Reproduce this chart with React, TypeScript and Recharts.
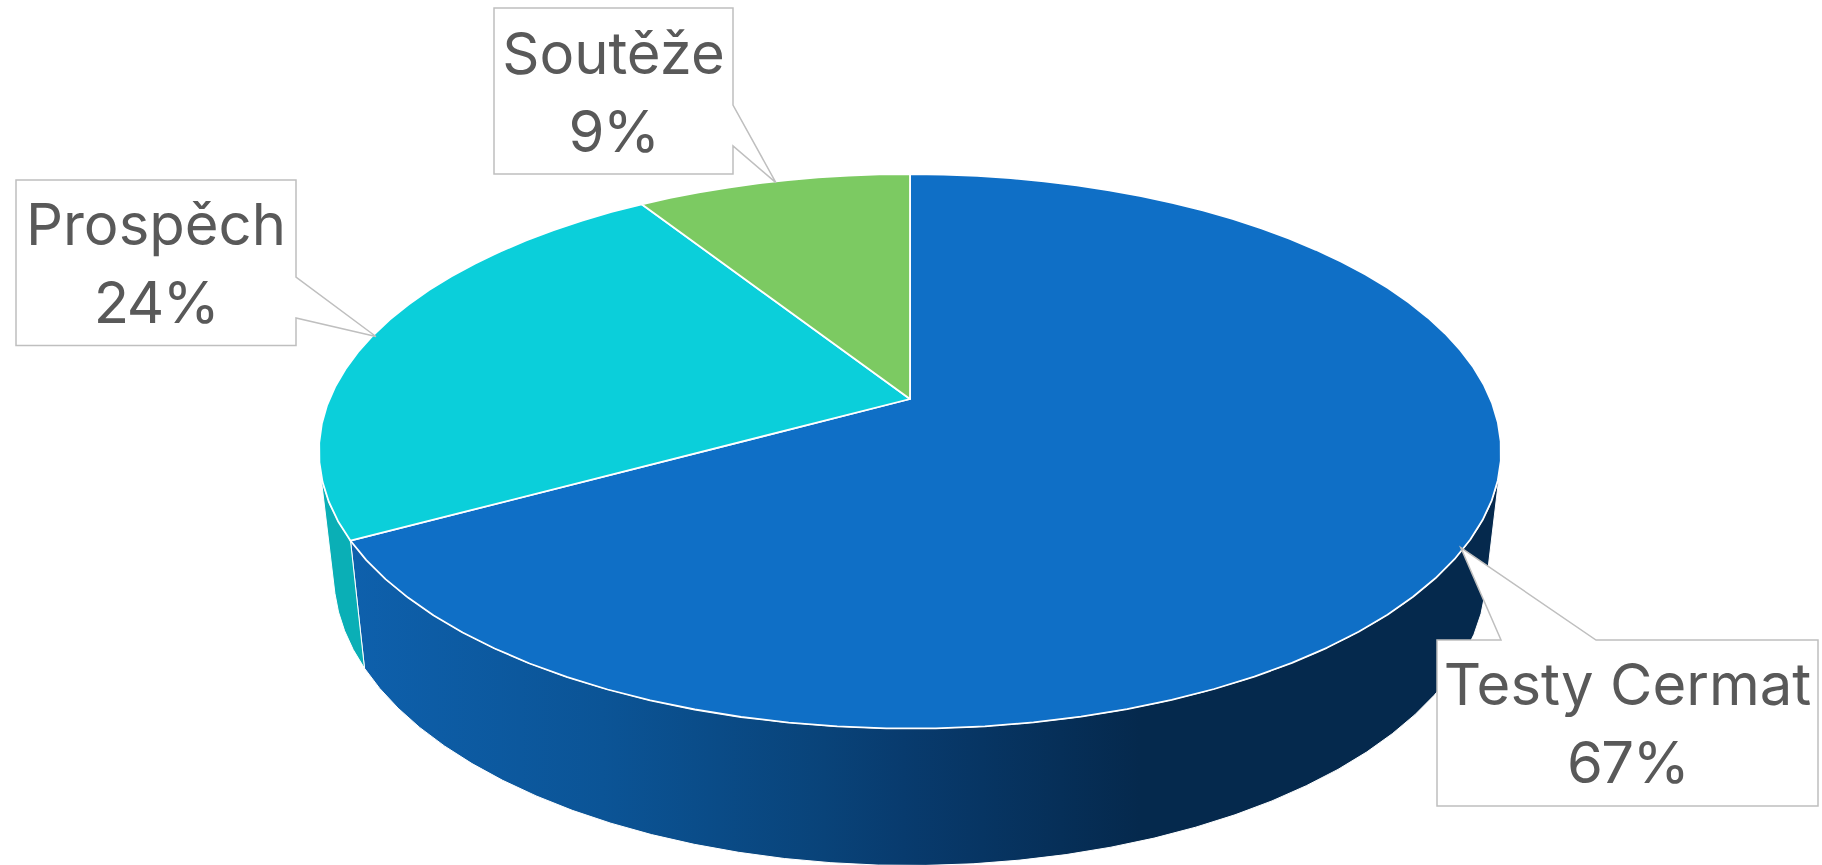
import { Pie, PieChart } from 'recharts';

const categories = ['Testy Cermat', 'Prospěch', 'Soutěže'];
const shares = [67, 24, 9];
const topColors = ['#0f6fc6', '#0bcfda', '#7cca62'];
const wallColors = ['url(#wall-blue)', '#0aafb6', '#7cca62'];

const data = categories.map((name, i) => ({ name, value: shares[i] }));

// tilt of the disc: v runs towards the viewer
const PERSPECTIVE = 0.1886;
const SQUASH = 0.4606;
// how the bottom rim sits under the top rim
const WALL_SCALE_X = 0.975;
const WALL_SCALE_Y = 1.05;
const WALL_DROP = 120.5;
// wall only shows on the front, from here down
const WALL_MIN_ANGLE = -165.5;
const WALL_MAX_ANGLE = -14.5;
const ARC_STEP = 4;

const callouts: Record<string, { box: number[]; notch: number[][]; baselines: number[] }> = {
  Soutěže: { box: [494, 8, 733, 174], notch: [[733, 105], [733, 146]], baselines: [74, 152] },
  Prospěch: { box: [16, 180, 296, 345.5], notch: [[296, 277], [296, 318]], baselines: [245, 323] },
  'Testy Cermat': { box: [1437, 640, 1818, 806], notch: [[1501, 640], [1596, 640]], baselines: [705, 783] },
};

function project(cx: number, cy: number, r: number, angle: number) {
  const rad = (angle * Math.PI) / 180;
  const u = Math.cos(rad);
  const v = -Math.sin(rad);
  const w = 1 - PERSPECTIVE * v;
  return { x: cx + (r * u) / w, y: cy + (r * SQUASH * v) / w };
}

function projectBottom(cx: number, cy: number, r: number, angle: number) {
  const p = project(cx, cy, r, angle);
  return { x: cx + (p.x - cx) * WALL_SCALE_X, y: cy + (p.y - cy) * WALL_SCALE_Y + WALL_DROP };
}

function arcPoints(from: number, to: number, fn: (a: number) => { x: number; y: number }) {
  const steps = Math.max(2, Math.ceil(Math.abs(to - from) / ARC_STEP));
  const pts = [];
  for (let i = 0; i <= steps; i++) pts.push(fn(from + ((to - from) * i) / steps));
  return pts;
}

const toPath = (pts: { x: number; y: number }[]) =>
  pts.map((p, i) => `${i ? 'L' : 'M'}${p.x.toFixed(1)} ${p.y.toFixed(1)}`).join(' ') + ' Z';

function TopSlice(props: any) {
  const { cx, cy, outerRadius, startAngle, endAngle, index } = props;
  const rim = arcPoints(startAngle, endAngle, (a) => project(cx, cy, outerRadius, a));
  return <path d={toPath([{ x: cx, y: cy }, ...rim])} fill={topColors[index]} stroke="#fff" strokeWidth={1.8} strokeLinejoin="round" />;
}

function WallSlice(props: any) {
  const { cx, cy, outerRadius, startAngle, endAngle, index } = props;
  const from = Math.min(startAngle, WALL_MAX_ANGLE);
  const to = Math.max(endAngle, WALL_MIN_ANGLE);
  if (from <= to) return null;
  const top = arcPoints(from, to, (a) => project(cx, cy, outerRadius, a));
  const bottom = arcPoints(to, from, (a) => projectBottom(cx, cy, outerRadius, a));
  return <path d={toPath([...top, ...bottom])} fill={wallColors[index]} stroke="#fff" strokeWidth={1} strokeLinejoin="round" />;
}

function Callout(props: any) {
  const { cx, cy, outerRadius, midAngle, name, percent } = props;
  const layout = callouts[name];
  const tip = project(cx, cy, outerRadius, midAngle);
  const [x0, y0, x1, y1] = layout.box;
  const [n0, n1] = layout.notch;
  // notch sits on the right edge or on the top edge of the box
  const outline =
    n0[0] === x1
      ? [[x0, y0], [x1, y0], n0, [tip.x + 3, tip.y + 1], n1, [x1, y1], [x0, y1]]
      : [[x0, y0], n0, [tip.x - 2, tip.y - 2], n1, [x1, y0], [x1, y1], [x0, y1]];
  const mid = (x0 + x1) / 2;
  return (
    <g>
      <polygon points={outline.map((p) => p.join(',')).join(' ')} fill="#fff" stroke="#bfbfbf" strokeWidth={1.5} />
      <text x={mid} y={layout.baselines[0]} textAnchor="middle" fontFamily="Inter" fontSize={58} fill="#595959">
        {name}
      </text>
      <text x={mid} y={layout.baselines[1]} textAnchor="middle" fontFamily="Inter" fontSize={58} letterSpacing={-1.5} fill="#595959">
        {`${Math.round(percent * 100)}%`}
      </text>
    </g>
  );
}

export default function App() {
  return (
    <div style={{ position: 'absolute', left: 0, top: 0, width: 1822, height: 865, background: '#fff' }}>
      <PieChart width={1822} height={865} margin={{ top: 0, right: 0, bottom: 0, left: 0 }}>
        <defs>
          <linearGradient id="wall-blue" gradientUnits="userSpaceOnUse" x1={351} y1={0} x2={1140} y2={0}>
            <stop offset="0%" stopColor="#0e60ac" />
            <stop offset="32%" stopColor="#0b5496" />
            <stop offset="60%" stopColor="#094379" />
            <stop offset="70%" stopColor="#083b6e" />
            <stop offset="100%" stopColor="#05294d" />
          </linearGradient>
        </defs>
        <Pie
          data={data}
          dataKey="value"
          nameKey="name"
          cx={910}
          cy={399}
          outerRadius={580.5}
          startAngle={90}
          endAngle={-270}
          paddingAngle={0}
          shape={WallSlice}
          isAnimationActive={false}
        />
        <Pie
          data={data}
          dataKey="value"
          nameKey="name"
          cx={910}
          cy={399}
          outerRadius={580.5}
          startAngle={90}
          endAngle={-270}
          paddingAngle={0}
          shape={TopSlice}
          label={Callout}
          labelLine={false}
          isAnimationActive={false}
        />
      </PieChart>
    </div>
  );
}
